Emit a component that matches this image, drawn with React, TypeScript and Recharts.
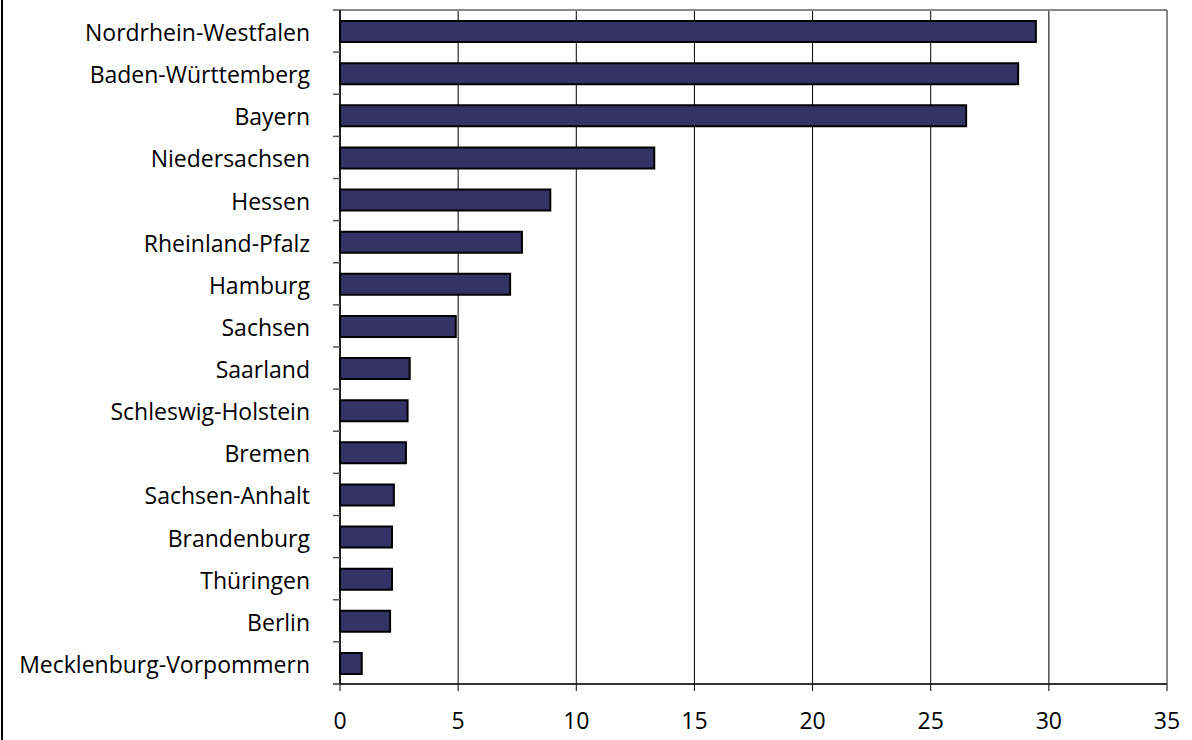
import { BarChart, Bar, XAxis, YAxis, CartesianGrid } from 'recharts';

const states = [
    'Nordrhein-Westfalen',
    'Baden-Württemberg',
    'Bayern',
    'Niedersachsen',
    'Hessen',
    'Rheinland-Pfalz',
    'Hamburg',
    'Sachsen',
    'Saarland',
    'Schleswig-Holstein',
    'Bremen',
    'Sachsen-Anhalt',
    'Brandenburg',
    'Thüringen',
    'Berlin',
    'Mecklenburg-Vorpommern',
];

const values = [29.45, 28.7, 26.5, 13.3, 8.9, 7.7, 7.2, 4.9, 2.95, 2.86, 2.79, 2.28, 2.2, 2.2, 2.12, 0.92];

const xTicks = [0, 5, 10, 15, 20, 25, 30, 35];

const data = states.map((name, i) => ({ name, value: values[i] }));

const FONT = '"Open Sans", sans-serif';

// category label plus a short tick on the band boundary (Excel style)
function StateTick(props: any) {
    const { x, y, payload, height, visibleTicksCount, index } = props;
    const band = height / visibleTicksCount;
    const axisX = x + 30;
    return (
        <g>
            <text x={x} y={y} dy={10} textAnchor="end" fontFamily={FONT} fontSize={23} fill="#000">
                {payload.value}
            </text>
            <line x1={axisX - 7} x2={axisX} y1={y - band / 2} y2={y - band / 2} stroke="#555" strokeWidth={1.5} />
            {index === visibleTicksCount - 1 && (
                <line x1={axisX - 7} x2={axisX} y1={y + band / 2} y2={y + band / 2} stroke="#333" strokeWidth={1.5} />
            )}
        </g>
    );
}

export default function App() {
    return (
        <div style={{ position: 'absolute', left: 0, top: 0, width: 1192, height: 740, overflow: 'hidden', background: '#fff' }}>
            <div style={{ position: 'absolute', left: 1, top: 0, width: 1.5, height: 740, background: '#000' }} />
            <BarChart
                width={1192}
                height={740}
                data={data}
                layout="vertical"
                margin={{ top: 10, right: 25, left: 0, bottom: 0 }}
            >
                <CartesianGrid xAxisId="main" horizontal={false} stroke="#000" strokeWidth={1} />
                {/* gray plot-area frame on top and right */}
                <CartesianGrid
                    xAxisId="main"
                    stroke="#888"
                    strokeWidth={2}
                    horizontalCoordinatesGenerator={({ offset }: any) => [offset.top]}
                    verticalCoordinatesGenerator={({ offset }: any) => [offset.left + offset.width]}
                />
                <XAxis
                    xAxisId="main"
                    type="number"
                    domain={[0, 35]}
                    ticks={xTicks}
                    height={56}
                    tickSize={7}
                    tickMargin={22}
                    axisLine={{ stroke: '#333', strokeWidth: 2 }}
                    tickLine={{ stroke: '#000', strokeWidth: 1 }}
                    tick={{ fontFamily: FONT, fontSize: 23, fill: '#000' }}
                />
                <YAxis
                    type="category"
                    dataKey="name"
                    width={340}
                    interval={0}
                    tickLine={false}
                    tickSize={6}
                    tickMargin={24}
                    axisLine={{ stroke: '#000', strokeWidth: 1.5 }}
                    tick={<StateTick />}
                />
                <Bar
                    xAxisId="main"
                    dataKey="value"
                    barSize={21}
                    fill="#333366"
                    stroke="#000"
                    strokeWidth={2}
                    isAnimationActive={false}
                />
            </BarChart>
        </div>
    );
}
